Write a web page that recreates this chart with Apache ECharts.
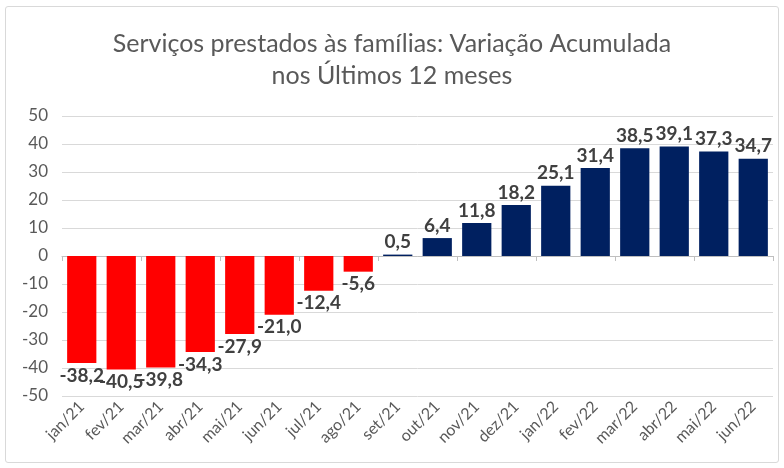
<!DOCTYPE html>
<html>
<head>
<meta charset="utf-8">
<script src="https://cdn.jsdelivr.net/npm/echarts@6/dist/echarts.min.js"></script>
<style>
html,body{margin:0;padding:0;background:#fff;}
#box{position:absolute;left:5px;top:6px;width:772px;height:455px;border:1px solid #d9d9d9;border-radius:3px;}
#main{position:absolute;left:0;top:0;width:784px;height:468px;}
</style>
</head>
<body>
<div id="box"></div>
<div id="main"></div>
<script>
// meses
var categorias = ['jan/21','fev/21','mar/21','abr/21','mai/21','jun/21','jul/21','ago/21','set/21',
	'out/21','nov/21','dez/21','jan/22','fev/22','mar/22','abr/22','mai/22','jun/22'];
// variação acumulada 12 meses
var valores = [-38.2,-40.5,-39.8,-34.3,-27.9,-21.0,-12.4,-5.6,0.5,6.4,11.8,18.2,25.1,31.4,38.5,39.1,37.3,34.7];
var yTicks = [-50,-40,-30,-20,-10,0,10,20,30,40,50];

var fonte = 'Lato, "Open Sans", sans-serif';

var dados = [];
for (var i = 0; i < valores.length; i++) {
	var neg = valores[i] < 0;
	dados.push({
		value: valores[i],
		itemStyle: {color: neg ? '#ff0000' : '#002060'},
		label: {position: neg ? 'bottom' : 'top'}
	});
}

var chart = echarts.init(document.getElementById('main'));
chart.setOption({
	animation: false,
	title: {
		text: 'Serviços prestados às famílias: Variação Acumulada\nnos Últimos 12 meses',
		left: 'center',
		top: 23,
		textStyle: {fontSize: 25, fontWeight: 'normal', color: '#595959', fontFamily: fonte, lineHeight: 32}
	},
	grid: {left: 62, right: 11, top: 116, bottom: 72},
	xAxis: [
		{
			type: 'category',
			data: categorias,
			position: 'bottom',
			axisLine: {onZero: true, lineStyle: {color: '#bfbfbf', width: 1}},
			axisTick: {show: true, length: 5, lineStyle: {color: '#bfbfbf'}},
			axisLabel: {show: false}
		},
		{
			type: 'category',
			data: categorias,
			position: 'bottom',
			axisLine: {show: false, onZero: false},
			axisTick: {show: false},
			axisLabel: {rotate: 45, fontSize: 16, color: '#595959', fontFamily: fonte, margin: 8, interval: 0}
		}
	],
	yAxis: {
		type: 'value',
		min: yTicks[0],
		max: yTicks[yTicks.length - 1],
		interval: 10,
		axisLine: {show: false},
		axisTick: {show: false},
		splitLine: {lineStyle: {color: '#d9d9d9', width: 1}},
		axisLabel: {fontSize: 17, color: '#595959', fontFamily: fonte, margin: 14}
	},
	series: [{
		type: 'bar',
		xAxisIndex: 0,
		data: dados,
		barCategoryGap: '26%',
		label: {
			show: true,
			fontSize: 19,
			fontWeight: 'bold',
			color: '#404040',
			fontFamily: fonte,
			distance: 3,
			formatter: function (p) { return p.value.toFixed(1).replace('.', ','); }
		}
	}]
});
</script>
</body>
</html>
